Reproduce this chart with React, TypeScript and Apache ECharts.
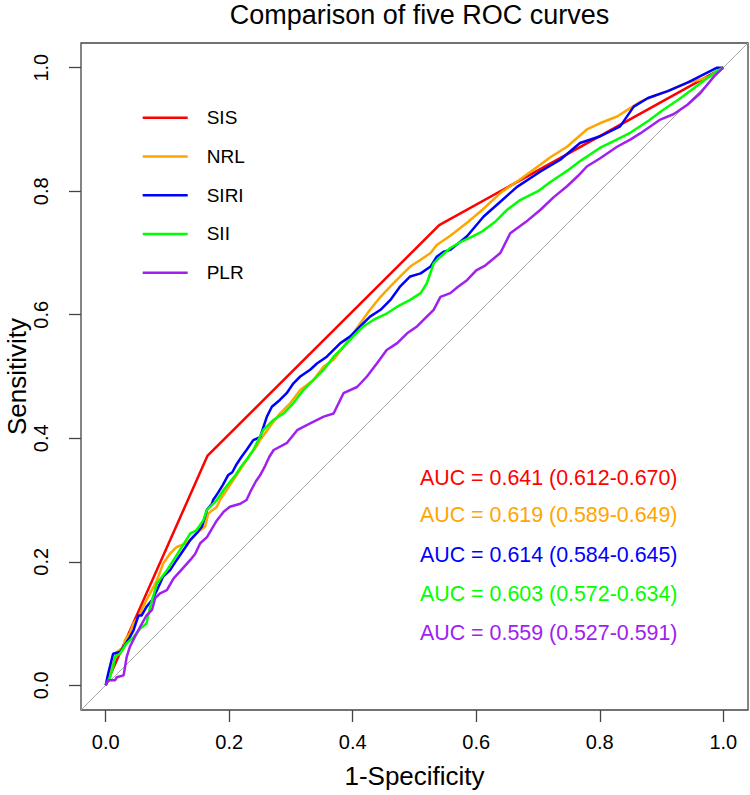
import React, { useEffect, useRef } from "react";
import * as echarts from "echarts";

const FONT = "'Liberation Sans', Arial, Helvetica, sans-serif";

const seriesNames = ["SIS", "NRL", "SIRI", "SII", "PLR"];
const seriesColors = ["#FF0000", "#FFA500", "#0000FF", "#00FF00", "#A020F0"];
const aucLabels = [
  "AUC = 0.641 (0.612-0.670)",
  "AUC = 0.619 (0.589-0.649)",
  "AUC = 0.614 (0.584-0.645)",
  "AUC = 0.603 (0.572-0.634)",
  "AUC = 0.559 (0.527-0.591)",
];
const tickValues = [0, 0.2, 0.4, 0.6, 0.8, 1.0];
const diagonal: [number, number][] = [[-0.04, -0.04], [1.04, 1.04]];

// [1-Specificity, Sensitivity]
const rocSIS: [number, number][] = [[0, 0], [0.165, 0.372], [0.54, 0.745], [1, 1]];

const rocNRL: [number, number][] = [
  [0, 0], [0.007, 0.019], [0.018, 0.054], [0.029, 0.062], [0.031, 0.073], [0.039, 0.084],
  [0.045, 0.1], [0.053, 0.111], [0.066, 0.138], [0.083, 0.17], [0.093, 0.197], [0.104, 0.213],
  [0.115, 0.224], [0.131, 0.23], [0.147, 0.246], [0.161, 0.257], [0.166, 0.278], [0.18, 0.289],
  [0.185, 0.3], [0.195, 0.315], [0.205, 0.33], [0.215, 0.345], [0.225, 0.36], [0.235, 0.375],
  [0.245, 0.388], [0.25, 0.397], [0.266, 0.419], [0.282, 0.44], [0.299, 0.457], [0.315, 0.478],
  [0.336, 0.494], [0.353, 0.516], [0.369, 0.527], [0.385, 0.548], [0.401, 0.57], [0.412, 0.586],
  [0.428, 0.608], [0.445, 0.629], [0.461, 0.646], [0.477, 0.662], [0.493, 0.678], [0.51, 0.689],
  [0.526, 0.7], [0.536, 0.713], [0.558, 0.728], [0.585, 0.749], [0.61, 0.77], [0.639, 0.797],
  [0.665, 0.815], [0.693, 0.835], [0.72, 0.855], [0.747, 0.872], [0.779, 0.9], [0.8, 0.91],
  [0.828, 0.921], [0.85, 0.935], [0.866, 0.945], [0.89, 0.955], [0.91, 0.962], [0.942, 0.976],
  [0.96, 0.98], [0.979, 0.986], [0.99, 0.995], [1, 1],
];

const rocSIRI: [number, number][] = [
  [0, 0], [0.004, 0.019], [0.012, 0.051], [0.023, 0.054], [0.029, 0.062], [0.039, 0.078],
  [0.045, 0.089], [0.053, 0.113], [0.058, 0.113], [0.066, 0.127], [0.075, 0.138], [0.083, 0.154],
  [0.093, 0.176], [0.104, 0.186], [0.115, 0.203], [0.126, 0.219], [0.137, 0.235], [0.147, 0.246],
  [0.156, 0.257], [0.164, 0.284], [0.172, 0.294], [0.174, 0.3], [0.182, 0.312], [0.19, 0.325],
  [0.198, 0.34], [0.205, 0.345], [0.212, 0.358], [0.22, 0.37], [0.228, 0.381], [0.239, 0.397],
  [0.25, 0.402], [0.261, 0.435], [0.269, 0.451], [0.282, 0.462], [0.293, 0.473], [0.304, 0.489],
  [0.315, 0.5], [0.331, 0.511], [0.342, 0.521], [0.358, 0.532], [0.369, 0.543], [0.38, 0.554],
  [0.396, 0.565], [0.412, 0.581], [0.428, 0.597], [0.445, 0.608], [0.461, 0.624], [0.477, 0.646],
  [0.493, 0.662], [0.51, 0.667], [0.526, 0.678], [0.536, 0.694], [0.547, 0.702], [0.558, 0.705],
  [0.585, 0.727], [0.612, 0.759], [0.639, 0.783], [0.666, 0.807], [0.704, 0.832], [0.736, 0.851],
  [0.768, 0.878], [0.801, 0.889], [0.833, 0.905], [0.855, 0.937], [0.878, 0.951], [0.91, 0.962],
  [0.942, 0.976], [0.974, 0.992], [0.99, 1], [1, 1],
];

const rocSII: [number, number][] = [
  [0, 0], [0.007, 0.013], [0.012, 0.03], [0.015, 0.046], [0.023, 0.051], [0.034, 0.068],
  [0.045, 0.078], [0.056, 0.092], [0.066, 0.1], [0.072, 0.127], [0.083, 0.165], [0.099, 0.186],
  [0.11, 0.203], [0.12, 0.219], [0.137, 0.246], [0.147, 0.251], [0.158, 0.267], [0.164, 0.284],
  [0.18, 0.3], [0.19, 0.315], [0.2, 0.328], [0.21, 0.34], [0.22, 0.355], [0.23, 0.368],
  [0.239, 0.381], [0.255, 0.413], [0.272, 0.43], [0.288, 0.44], [0.304, 0.457], [0.32, 0.478],
  [0.336, 0.494], [0.353, 0.511], [0.369, 0.532], [0.385, 0.548], [0.401, 0.565], [0.417, 0.581],
  [0.434, 0.592], [0.455, 0.602], [0.472, 0.613], [0.493, 0.624], [0.51, 0.635], [0.52, 0.651],
  [0.531, 0.683], [0.542, 0.694], [0.558, 0.708], [0.575, 0.718], [0.59, 0.725], [0.61, 0.735],
  [0.63, 0.75], [0.65, 0.77], [0.67, 0.785], [0.7, 0.8], [0.72, 0.815], [0.75, 0.835],
  [0.77, 0.85], [0.8, 0.87], [0.82, 0.88], [0.85, 0.895], [0.88, 0.915], [0.9, 0.93],
  [0.93, 0.95], [0.95, 0.965], [0.97, 0.98], [0.99, 0.995], [1, 1],
];

const rocPLR: [number, number][] = [
  [0, 0], [0.004, 0.008], [0.015, 0.008], [0.018, 0.013], [0.029, 0.016], [0.034, 0.046],
  [0.039, 0.062], [0.047, 0.078], [0.056, 0.095], [0.066, 0.113], [0.075, 0.122], [0.08, 0.141],
  [0.088, 0.149], [0.099, 0.154], [0.11, 0.173], [0.12, 0.184], [0.137, 0.203], [0.145, 0.213],
  [0.153, 0.23], [0.164, 0.24], [0.174, 0.257], [0.18, 0.267], [0.191, 0.281], [0.201, 0.289],
  [0.218, 0.294], [0.228, 0.3], [0.235, 0.315], [0.243, 0.33], [0.25, 0.34], [0.258, 0.355],
  [0.265, 0.37], [0.272, 0.381], [0.293, 0.392], [0.31, 0.413], [0.331, 0.424], [0.353, 0.435],
  [0.369, 0.44], [0.385, 0.473], [0.407, 0.483], [0.423, 0.5], [0.439, 0.521], [0.455, 0.543],
  [0.472, 0.554], [0.488, 0.57], [0.504, 0.581], [0.515, 0.592], [0.531, 0.608], [0.542, 0.629],
  [0.558, 0.635], [0.57, 0.645], [0.585, 0.656], [0.6, 0.672], [0.615, 0.68], [0.639, 0.7],
  [0.655, 0.732], [0.68, 0.75], [0.704, 0.77], [0.725, 0.79], [0.747, 0.808], [0.765, 0.825],
  [0.779, 0.84], [0.8, 0.853], [0.828, 0.872], [0.85, 0.884], [0.866, 0.894], [0.898, 0.916],
  [0.92, 0.925], [0.942, 0.94], [0.963, 0.959], [0.985, 0.986], [1, 1],
];

const curves = [rocSIS, rocNRL, rocSIRI, rocSII, rocPLR];

export default function App() {
  const ref = useRef<HTMLDivElement>(null);

  useEffect(() => {
    if (!ref.current) return;
    const chart = echarts.init(ref.current, null, { renderer: "svg" });

    const aucY = [477.7, 515, 555, 594, 633];

    const tickStyle = {
      show: true,
      inside: false,
      length: 12,
      customValues: tickValues,
      lineStyle: { color: "#444", width: 1.3 },
    };
    const labelStyle = {
      customValues: tickValues,
      formatter: (v: number) => v.toFixed(1),
      fontSize: 20,
      color: "#000",
      fontFamily: FONT,
    };
    const nameStyle = { fontSize: 26, color: "#000", fontFamily: FONT };

    chart.setOption({
      animation: false,
      backgroundColor: "#ffffff",
      title: {
        text: "Comparison of five ROC curves",
        left: 414.5,
        top: -4,
        textAlign: "center",
        textStyle: { fontSize: 27, fontWeight: "normal", color: "#000", fontFamily: FONT },
      },
      grid: {
        left: 81,
        top: 43,
        width: 667,
        height: 667,
        containLabel: false,
        outerBoundsMode: "none",
        show: true,
        borderColor: "#444",
        borderWidth: 1.3,
        backgroundColor: "transparent",
      },
      xAxis: {
        type: "value",
        min: -0.04,
        max: 1.04,
        position: "bottom",
        name: "1-Specificity",
        nameLocation: "middle",
        nameGap: 53,
        nameMoveOverlap: false,
        nameTextStyle: nameStyle,
        axisLine: { show: false, onZero: false },
        axisTick: tickStyle,
        axisLabel: { ...labelStyle, margin: 22 },
        splitLine: { show: false },
      },
      yAxis: {
        type: "value",
        min: -0.04,
        max: 1.04,
        position: "left",
        name: "Sensitivity",
        nameLocation: "middle",
        nameRotate: 90,
        nameGap: 51,
        nameMoveOverlap: false,
        nameTextStyle: nameStyle,
        axisLine: { show: false, onZero: false },
        axisTick: tickStyle,
        axisLabel: { ...labelStyle, margin: 30, rotate: 90 },
        splitLine: { show: false },
      },
      legend: {
        data: seriesNames,
        orient: "vertical",
        left: 142.7,
        top: 107.7,
        padding: 0,
        icon: "rect",
        itemWidth: 45,
        itemHeight: 2.5,
        itemGap: 18.75,
        selectedMode: false,
        textStyle: {
          fontSize: 19,
          lineHeight: 20,
          color: "#000",
          fontFamily: FONT,
          padding: [0, 0, 0, 14],
        },
      },
      graphic: aucLabels.map((t, i) => ({
        type: "text",
        x: 420,
        y: aucY[i],
        silent: true,
        style: {
          text: t,
          fill: seriesColors[i],
          fontSize: 21.4,
          fontFamily: FONT,
          align: "left",
          verticalAlign: "middle",
        },
      })),
      series: [
        {
          type: "line",
          name: "diag",
          data: diagonal,
          symbol: "none",
          silent: true,
          lineStyle: { color: "#AAAAAA", width: 1 },
          emphasis: { disabled: true },
        },
        ...curves.map((c, i) => ({
          type: "line",
          name: seriesNames[i],
          data: c,
          symbol: "none",
          color: seriesColors[i],
          itemStyle: { color: seriesColors[i] },
          lineStyle: { color: seriesColors[i], width: 2.5 },
          emphasis: { disabled: true },
        })),
      ],
    });

    return () => chart.dispose();
  }, []);

  return (
    <div
      ref={ref}
      style={{ position: "fixed", left: 0, top: 0, width: 750, height: 795, background: "#fff" }}
    />
  );
}
